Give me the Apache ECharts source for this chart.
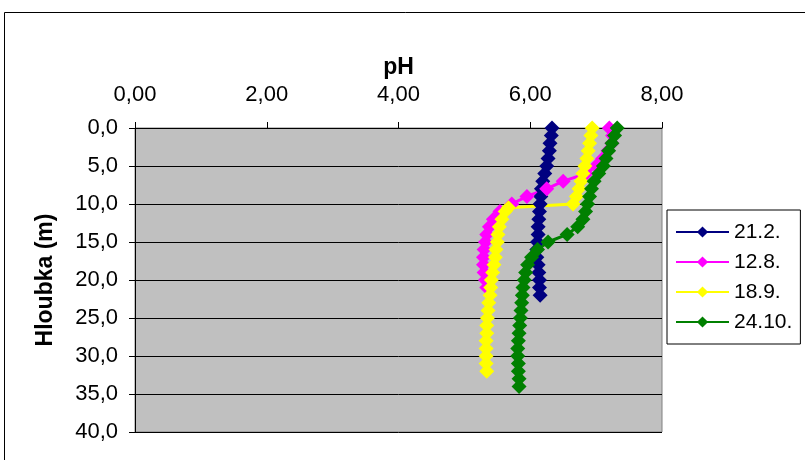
<!DOCTYPE html>
<html>
<head>
<meta charset="utf-8">
<script src="https://cdn.jsdelivr.net/npm/echarts@6/dist/echarts.min.js"></script>
<style>
html,body{margin:0;padding:0;background:#fff;}
#chart{width:805px;height:460px;}
</style>
</head>
<body>
<div id="chart"></div>
<script>
// Series names
var seriesNames = ['21.2.', '12.8.', '18.9.', '24.10.'];
var seriesColors = ['#000080', '#FF00FF', '#FFFF00', '#008000'];

// Depths (m) and pH values per series
var depth212 = [0,1,2,3,4,5,6,7,8,9,10,11,12,13,14,15,16,17,18,19,20,21,22];
var ph212 = [6.33,6.32,6.30,6.29,6.27,6.25,6.22,6.19,6.17,6.16,6.15,6.14,6.13,6.12,6.12,6.11,6.10,6.10,6.12,6.13,6.14,6.14,6.15];

var depth128 = [0,1,2,3,4,5,6,7,8,9,10,11,12,13,14,15,16,17,18,19,20,21];
var ph128 = [7.20,7.25,7.24,7.18,7.10,7.00,6.85,6.50,6.25,5.95,5.72,5.54,5.44,5.38,5.34,5.32,5.30,5.29,5.29,5.30,5.32,5.34];

var depth189 = [0,1,2,3,4,5,6,7,8,9,10,10.5,11,12,13,14,15,16,17,18,19,20,21,22,23,24,25,26,27,28,29,30,31,32];
var ph189 = [6.94,6.92,6.90,6.88,6.86,6.83,6.80,6.77,6.74,6.70,6.65,5.67,5.62,5.57,5.53,5.51,5.50,5.48,5.47,5.45,5.43,5.41,5.40,5.39,5.37,5.36,5.35,5.34,5.34,5.33,5.33,5.33,5.33,5.34];

var depth2410 = [0,1,2,3,4,5,6,7,8,9,10,11,12,13,14,15,16,17,18,19,20,21,22,23,24,25,26,27,28,29,30,31,32,33,34];
var ph2410 = [7.32,7.28,7.24,7.19,7.15,7.11,7.04,6.97,6.93,6.90,6.87,6.84,6.80,6.72,6.56,6.27,6.11,6.02,5.96,5.93,5.91,5.89,5.88,5.87,5.86,5.85,5.84,5.83,5.82,5.81,5.81,5.82,5.82,5.83,5.83];

// Axis ticks
var xTicks = [0, 2, 4, 6, 8];
var yTicks = [0, 5, 10, 15, 20, 25, 30, 35, 40];

function pairs(xs, ys) {
  return ys.map(function (d, i) { return [xs[i], d]; });
}
var allData = [
  pairs(ph212, depth212),
  pairs(ph128, depth128),
  pairs(ph189, depth189),
  pairs(ph2410, depth2410)
];

var FONT = "'Liberation Sans', Arial, sans-serif";
var chart = echarts.init(document.getElementById('chart'), null, {renderer: 'canvas'});

var series = seriesNames.map(function (name, i) {
  return {
    name: name,
    type: 'line',
    data: allData[i],
    symbol: 'diamond',
    symbolSize: 15,
    showAllSymbol: true,
    lineStyle: {color: seriesColors[i], width: 3},
    itemStyle: {color: seriesColors[i], borderWidth: 0},
    emphasis: {disabled: true},
    animation: false
  };
});

chart.setOption({
  animation: false,
  backgroundColor: '#ffffff',
  graphic: [{
    type: 'rect',
    shape: {x: 4.5, y: 12.5, width: 900, height: 900},
    style: {fill: 'none', stroke: '#000', lineWidth: 1},
    silent: true,
    z: -10
  }],
  grid: {
    left: 135, top: 128, width: 527, height: 304,
    show: true,
    backgroundColor: '#C0C0C0',
    borderColor: '#808080',
    borderWidth: 1
  },
  legend: {
    orient: 'vertical',
    left: 667,
    top: 210,
    padding: [11, 8, 11, 8],
    itemGap: 8,
    itemWidth: 53,
    itemHeight: 14,
    borderColor: '#000',
    borderWidth: 1,
    backgroundColor: '#fff',
    textStyle: {fontFamily: FONT, fontSize: 21, color: '#000', lineHeight: 22},
    data: seriesNames
  },
  xAxis: {
    type: 'value',
    position: 'top',
    min: 0, max: 8, interval: 2,
    name: 'pH',
    nameLocation: 'middle',
    nameGap: 48,
    nameTextStyle: {fontFamily: FONT, fontSize: 23, fontWeight: 'bold', color: '#000'},
    axisLine: {show: true, lineStyle: {color: '#000', width: 1}},
    axisTick: {show: true, length: 6, lineStyle: {color: '#000'}},
    axisLabel: {
      fontFamily: FONT, fontSize: 22, color: '#000', margin: 22,
      formatter: function (v) { return v.toFixed(2).replace('.', ','); }
    },
    splitLine: {show: false}
  },
  yAxis: {
    type: 'value',
    inverse: true,
    min: 0, max: 40, interval: 5,
    name: 'Hloubka (m)',
    nameLocation: 'middle',
    nameGap: 78,
    nameRotate: 90,
    nameTextStyle: {fontFamily: FONT, fontSize: 23, fontWeight: 'bold', color: '#000'},
    axisLine: {show: true, lineStyle: {color: '#000', width: 1}},
    axisTick: {show: true, length: 6, lineStyle: {color: '#000'}},
    axisLabel: {
      fontFamily: FONT, fontSize: 22, color: '#000', margin: 17,
      formatter: function (v) { return v.toFixed(1).replace('.', ','); }
    },
    splitLine: {show: true, lineStyle: {color: '#000', width: 1}}
  },
  series: series
});
</script>
</body>
</html>
